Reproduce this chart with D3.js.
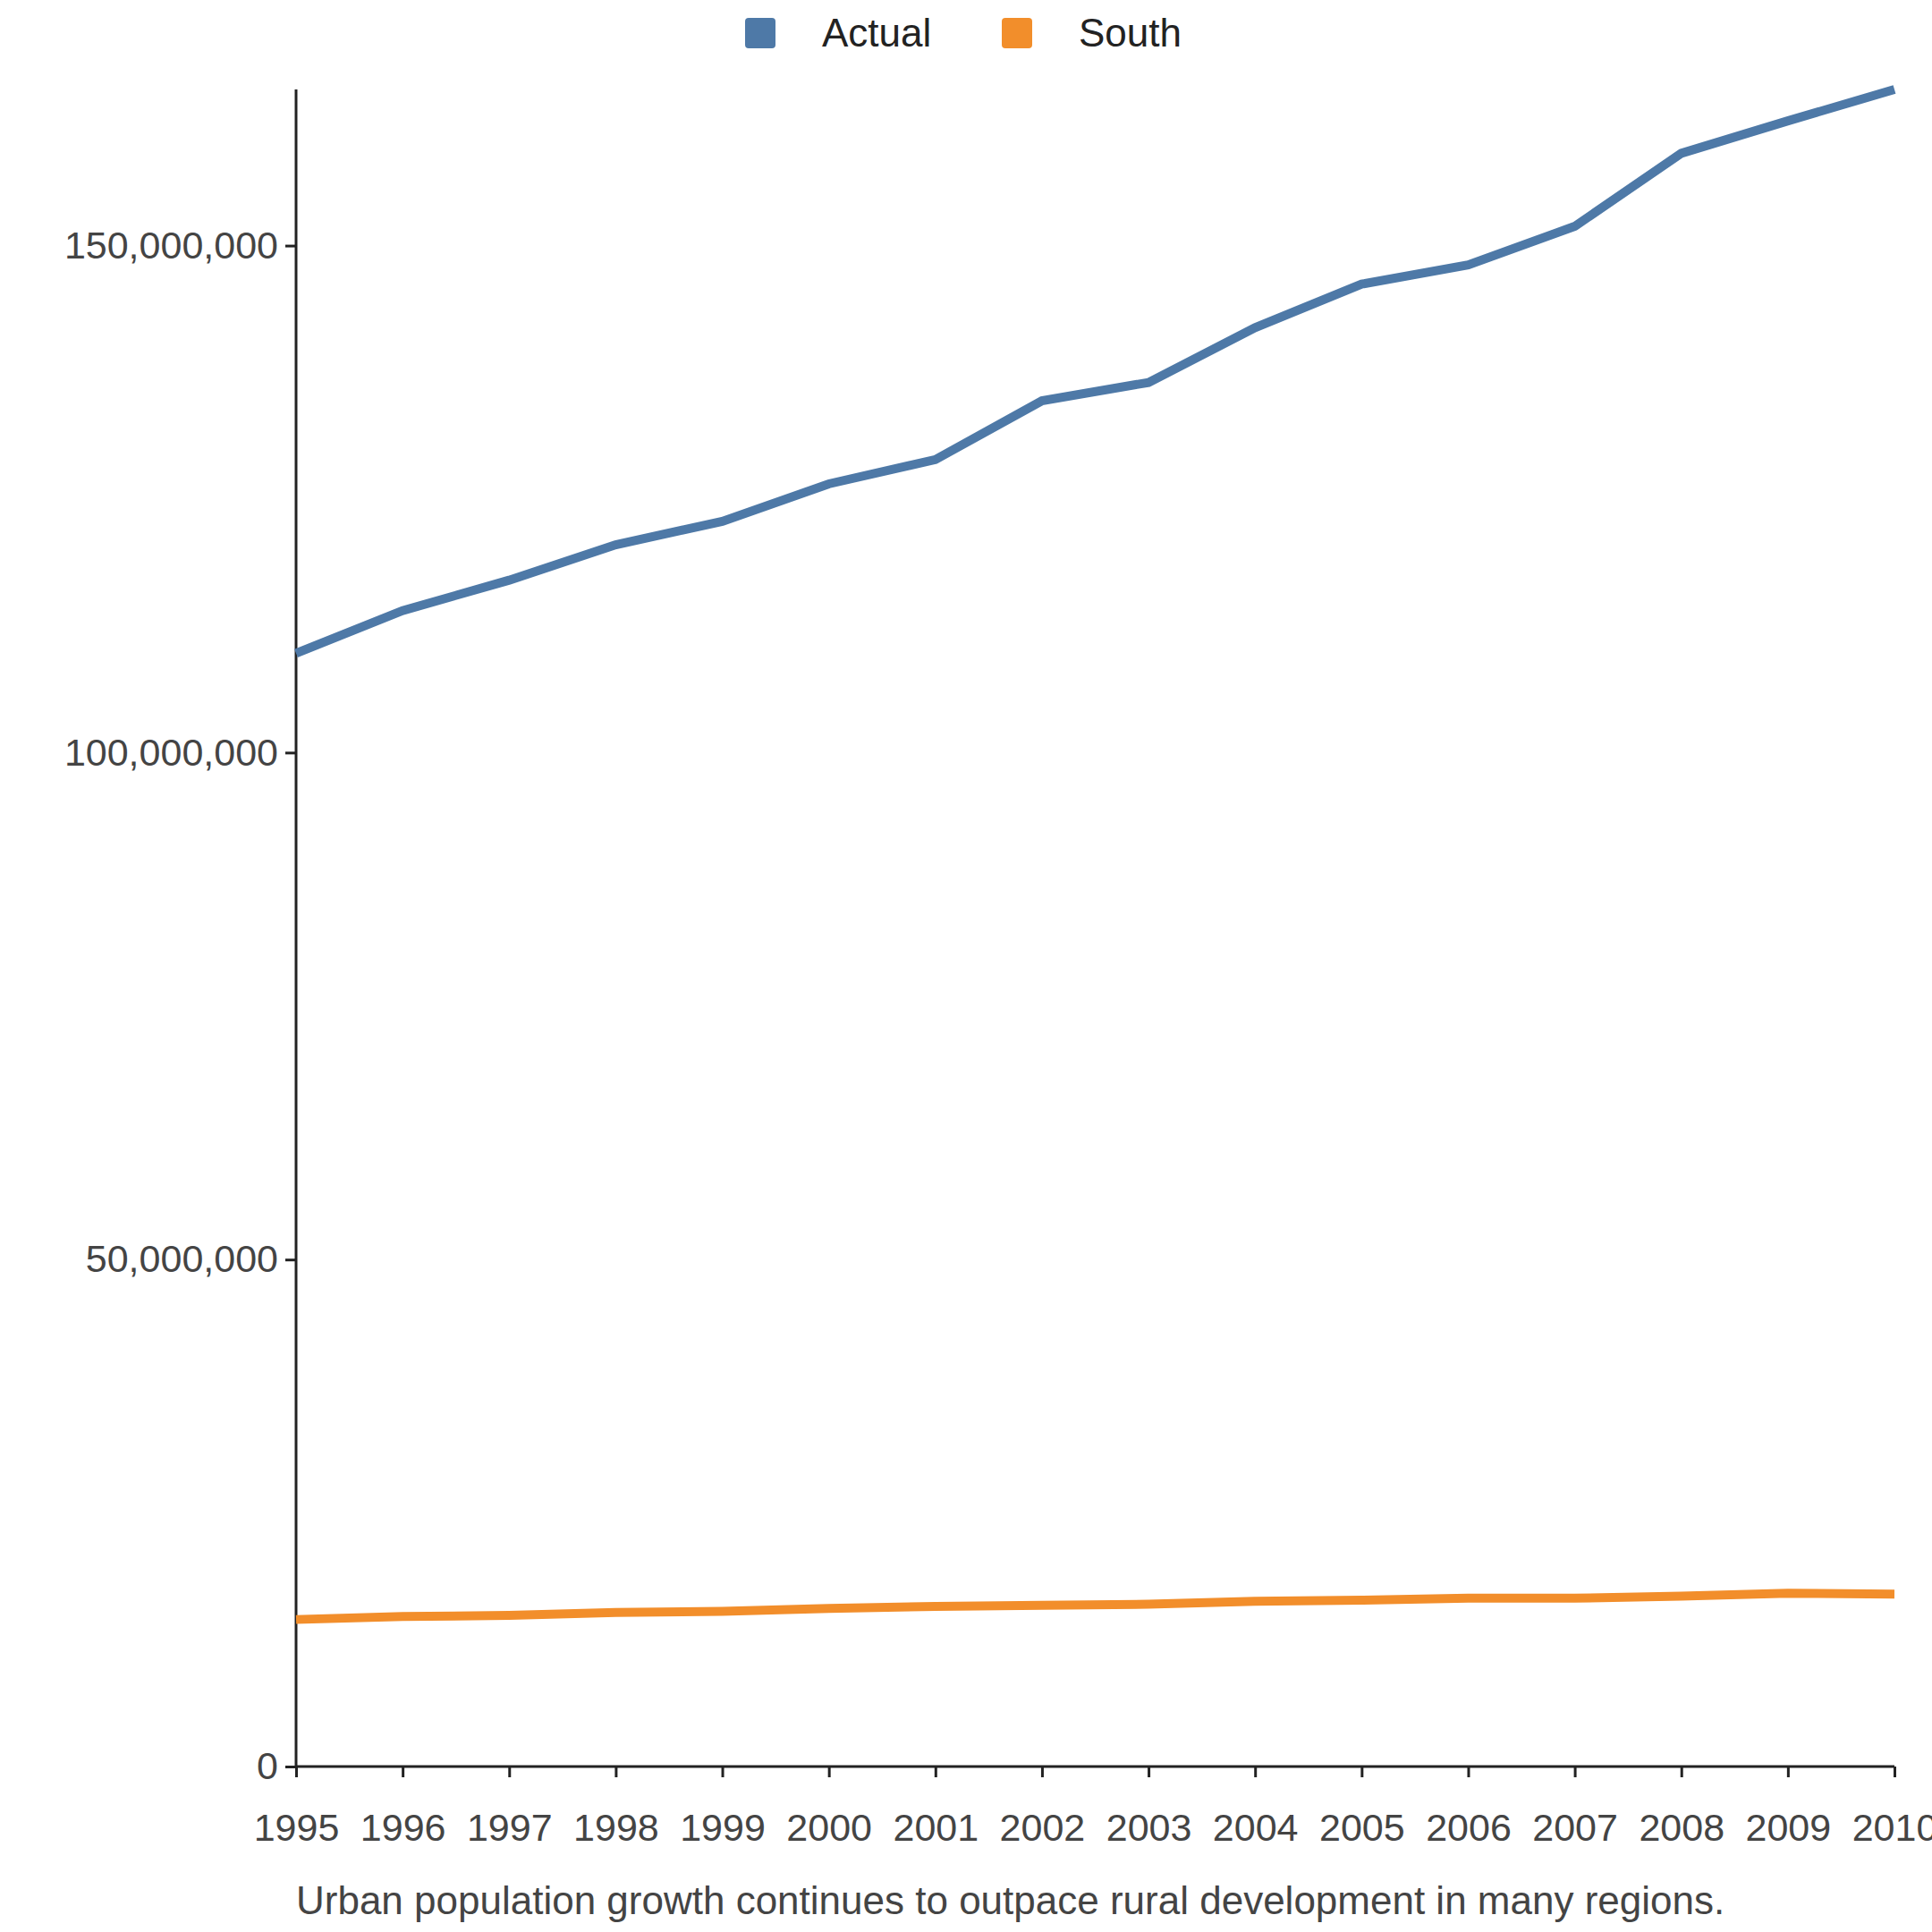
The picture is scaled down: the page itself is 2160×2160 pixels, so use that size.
<!DOCTYPE html>
<html><head><meta charset="utf-8">
<script src="https://cdn.jsdelivr.net/npm/d3@7"></script>
<style>body{margin:0;background:#fff}text{font-family:Arial,"Liberation Sans",sans-serif}</style>
</head><body>
<svg id="c" width="2160" height="2160"></svg>
<script>
const years=[1995,1996,1997,1998,1999,2000,2001,2002,2003,2004,2005,2006,2007,2008,2009,2010];
const actual=[109.8,114.0,117.0,120.5,122.8,126.5,128.9,134.7,136.5,141.9,146.2,148.1,151.9,159.1,162.3,165.4].map(v=>v*1e6);
const south=[14.5,14.8,14.9,15.2,15.3,15.6,15.8,15.9,16.0,16.3,16.4,16.6,16.6,16.8,17.1,17.0].map(v=>v*1e6);
const seriesNames=["Actual","South"];
const colors=["#4e79a7","#f28e2b"];
const yTicks=[0,50e6,100e6,150e6];
const caption="Urban population growth continues to outpace rural development in many regions.";

const svg=d3.select("#c");
const m={l:331,r:2118,t:100,b:1975};
const x=d3.scaleLinear().domain([1995,2010]).range([m.l,m.r]);
const y=d3.scaleLinear().domain([0,d3.max(actual)]).range([m.b,m.t]);

const xa=svg.append("g").attr("transform",`translate(0,${m.b})`)
 .call(d3.axisBottom(x).tickValues(years).tickFormat(d3.format("d")).tickSize(12).tickPadding(40));
const ya=svg.append("g").attr("transform",`translate(${m.l},0)`)
 .call(d3.axisLeft(y).tickValues(yTicks).tickFormat(d3.format(",")).tickSize(12).tickPadding(8));
[xa,ya].forEach(a=>{a.selectAll("path,line").attr("stroke","#222").attr("stroke-width",3);
 a.selectAll("text").attr("font-size",43).attr("fill","#444");});
ya.select(".domain").attr("d",`M0,${m.t}V${m.b}`);
xa.select(".domain").attr("d",`M${m.l},0H${m.r}`);

const line=d3.line().x((d,i)=>x(years[i])).y(d=>y(d));
[actual,south].forEach((s,i)=>svg.append("path").datum(s).attr("d",line)
 .attr("fill","none").attr("stroke",colors[i]).attr("stroke-width",10));

const lx=[833,1120];
seriesNames.forEach((n,i)=>{
 svg.append("rect").attr("x",lx[i]).attr("y",20).attr("width",34).attr("height",34).attr("rx",4).attr("fill",colors[i]);
 svg.append("text").attr("x",lx[i]+86).attr("y",37).attr("dy","0.35em").attr("font-size",44).attr("fill","#222").text(n);
});
svg.append("text").attr("x",m.l).attr("y",2125).attr("dy","0.35em").attr("font-size",44).attr("fill","#444").text(caption);
</script></body></html>
